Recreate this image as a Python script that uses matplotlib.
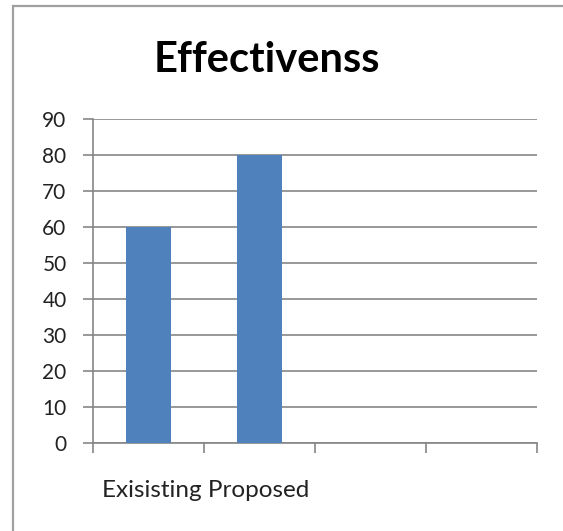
import matplotlib.pyplot as plt
from matplotlib.patches import Rectangle

# data
categories = ["Exisisting", "Proposed"]
values = [60, 80]
n_slots = 4
yticks = list(range(0, 100, 10))

plt.rcParams['font.family'] = ['Lato', 'DejaVu Sans']

fig = plt.figure(figsize=(5.63, 5.31), dpi=100)
W, H = 563, 531
ax = fig.add_axes([93 / W, 1 - 443 / H, (537 - 93) / W, (443 - 119) / H])

# outer chart border (cut at right/bottom edges)
fig.patches.append(Rectangle((13 / W, -0.05), 1.2, 1 - 6 / H + 0.05,
                             transform=fig.transFigure, fill=False,
                             edgecolor='#a0a0a0', linewidth=1.6))

ax.bar([i + 0.5 for i in range(len(values))], values, width=0.4,
       color='#4f81bd', zorder=3)

ax.set_xlim(0, n_slots)
ax.set_ylim(0, 90)
ax.set_yticks(yticks)
ax.set_xticks(range(n_slots + 1))
ax.set_xticklabels([])
ax.grid(axis='y', color='#868686', linewidth=1.2, zorder=0)
for s in ['top', 'right']:
    ax.spines[s].set_visible(False)
for s in ['left', 'bottom']:
    ax.spines[s].set_color('#868686')
    ax.spines[s].set_linewidth(1.2)
ax.tick_params(axis='y', length=7, width=1.2, color='#868686', labelsize=15,
               pad=12, labelcolor='#222222')
ax.tick_params(axis='x', length=7, width=1.2, color='#868686')

fig.text(102 / W, 1 - 497 / H, " ".join(categories), fontsize=17.5,
         ha='left', va='baseline', color='#222222')

fig.text(267 / W, 1 - 72 / H, "Effectivenss", fontsize=30, fontweight='bold',
         ha='center', va='baseline')

fig.savefig("out.png", dpi=100)
